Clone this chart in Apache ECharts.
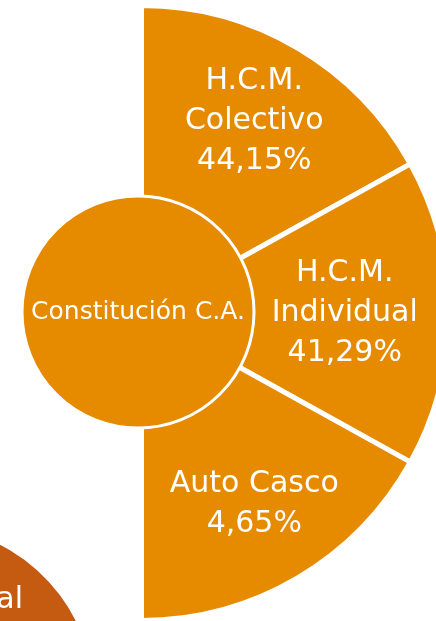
<!DOCTYPE html>
<html>
<head>
<meta charset="utf-8">
<script src="https://cdn.jsdelivr.net/npm/echarts@6/dist/echarts.min.js"></script>
<style>
  html, body { margin: 0; padding: 0; background: #fff; }
  #chart { width: 436px; height: 621px; }
</style>
</head>
<body>
<div id="chart"></div>
<script>
// ramos de la compañía (segmentos del semicírculo)
const categories = ['H.C.M.\nColectivo', 'H.C.M.\nIndividual', 'Auto Casco'];
const percents = ['44,15%', '41,29%', '4,65%'];
// el diagrama reparte el semicírculo en partes casi iguales (grados)
const sliceShares = [61, 58, 61];
const centerName = 'Constitución C.A.';
const otherName = 'al';

const orange = '#E68A00';
const darkOrange = '#C55A11';
const font = 'DejaVu Sans';

const chart = echarts.init(document.getElementById('chart'));

const option = {
    backgroundColor: '#fff',
    animation: false,
    series: [{
        // círculo vecino, cortado en la esquina
        type: 'pie',
        silent: true,
        center: [-78, 698],
        radius: [84, 172],
        startAngle: 228,
        label: {
            show: true,
            position: 'inside',
            rotate: 0,
            color: '#fff',
            fontFamily: font,
            fontSize: 30,
            formatter: otherName
        },
        labelLine: { show: false },
        itemStyle: { color: darkOrange },
        data: [{ name: otherName, value: 1 }]
    }, {
        // relleno del círculo vecino
        type: 'pie',
        silent: true,
        center: [-78, 698],
        radius: [0, 86],
        label: { show: false },
        labelLine: { show: false },
        itemStyle: { color: darkOrange },
        data: [{ name: otherName, value: 1 }]
    }, {
        type: 'pie',
        silent: true,
        center: [141.5, 313],
        radius: [0, 307.5],
        startAngle: 90,
        endAngle: -90,
        clockwise: true,
        label: { show: false },
        labelLine: { show: false },
        itemStyle: {
            color: orange,
            borderColor: '#fff',
            borderWidth: 5
        },
        data: sliceShares.map((v, i) => ({ name: categories[i], value: v }))
    }, {
        // solo etiquetas
        type: 'pie',
        silent: true,
        center: [141.5, 313],
        radius: [131, 307.5],
        startAngle: 90,
        endAngle: -90,
        clockwise: true,
        itemStyle: { color: 'rgba(0,0,0,0)', borderWidth: 0 },
        label: {
            show: true,
            position: 'inside',
            rotate: 0,
            color: '#fff',
            fontFamily: font,
            fontSize: 30,
            lineHeight: 40,
            align: 'center',
            formatter: function (p) {
                return categories[p.dataIndex] + '\n' + percents[p.dataIndex];
            }
        },
        labelLine: { show: false },
        data: sliceShares.map((v, i) => {
            const item = { name: categories[i], value: v };
            if (i === 1) item.label = { padding: [0, 38, 0, 0] };
            return item;
        })
    }, {
        type: 'pie',
        silent: true,
        center: [138, 312],
        radius: [0, 116],
        label: {
            show: true,
            position: 'center',
            color: '#fff',
            fontFamily: font,
            fontSize: 25
        },
        labelLine: { show: false },
        itemStyle: {
            color: orange,
            borderColor: '#fff',
            borderWidth: 3
        },
        data: [{ name: centerName, value: 1 }]
    }]
};

chart.setOption(option);
window.addEventListener('resize', function () {
    chart.resize();
});
</script>
</body>
</html>
